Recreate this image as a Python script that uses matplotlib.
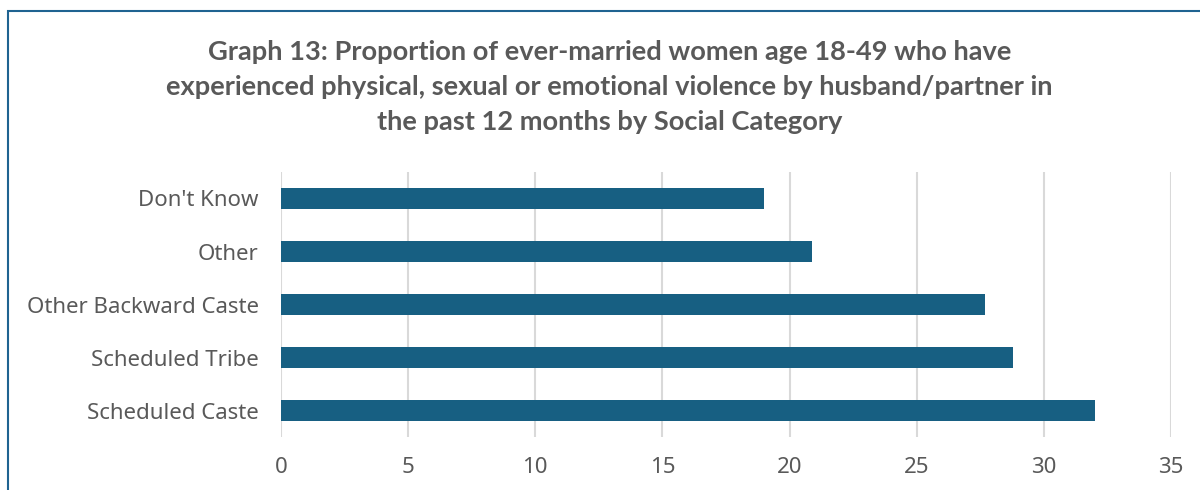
import matplotlib.pyplot as plt
from matplotlib.patches import Rectangle

# data
categories = ["Scheduled Caste", "Scheduled Tribe", "Other Backward Caste", "Other", "Don't Know"]
values = [32.0, 28.8, 27.7, 20.9, 19.0]
xticks = [0, 5, 10, 15, 20, 25, 30, 35]

title = ("Graph 13: Proportion of ever-married women age 18-49 who have\n"
         "experienced physical, sexual or emotional violence by husband/partner in\n"
         "the past 12 months by Social Category")

bar_color = "#175f82"
text_color = "#595959"
grid_color = "#d9d9d9"

plt.rcParams['font.family'] = ['Noto Sans', 'DejaVu Sans']

fig = plt.figure(figsize=(12, 4.9), dpi=100)
ax = fig.add_axes([0.234, 0.108, 0.742, 0.541])

ax.barh(range(len(categories)), values, height=0.38, color=bar_color, zorder=3)
ax.set_ylim(-0.5, len(categories) - 0.5)
ax.set_xlim(0, 35)
ax.set_xticks(xticks)
ax.set_yticks(range(len(categories)))
ax.set_yticklabels(categories)

ax.grid(axis='x', color=grid_color, linewidth=1.5, zorder=0)
for s in ax.spines.values():
    s.set_visible(False)
ax.tick_params(axis='both', length=0, labelsize=16, labelcolor=text_color)
ax.tick_params(axis='y', pad=16)
ax.tick_params(axis='x', pad=14.5)

fig.text(0.508, 0.822, title, ha='center', va='center', fontsize=19.6,
         fontweight='bold', color=text_color, linespacing=1.55,
         family=['Lato', 'DejaVu Sans'])

# chart frame (cut off at right and bottom in the reference)
fig.patches.append(Rectangle((8 / 1200, -0.1), 1.2, 1.1 - 11 / 490,
                             transform=fig.transFigure, fill=False,
                             edgecolor="#1f6391", linewidth=1.5))

fig.savefig("out.png", dpi=100)
